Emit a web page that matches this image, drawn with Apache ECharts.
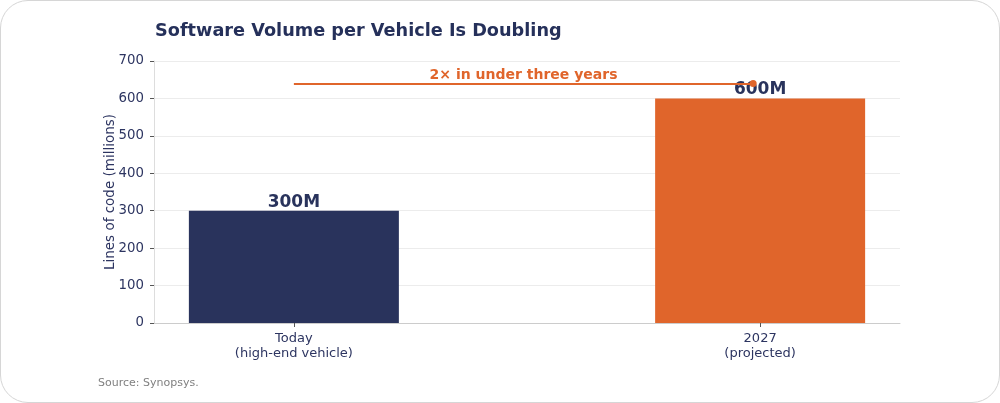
<!DOCTYPE html>
<html>
<head>
<meta charset="utf-8">
<script src="https://cdn.jsdelivr.net/npm/echarts@6/dist/echarts.min.js"></script>
<style>
  html, body { margin: 0; padding: 0; background: #fff; }
  .card {
    width: 998px; height: 401px;
    border: 1px solid #d6d6d6; border-radius: 28px;
    position: relative; overflow: hidden;
  }
  #chart { width: 1000px; height: 403px; position: absolute; left: -1px; top: -1px; }
</style>
</head>
<body>
<div class="card"><div id="chart"></div></div>
<script>
const FONT = "'DejaVu Sans', sans-serif"
const NAVY = '#29335c'
const ORANGE = '#e0652b'
const TEXT = '#2d3561'

const categories = ['Today\n(high-end vehicle)', '2027\n(projected)']
const positions = [0, 1]
const values = [300, 600]
const valueLabels = ['300M', '600M']
const barColors = [NAVY, ORANGE]
const annotationY = 640
const annotationText = '2× in under three years'

const chart = echarts.init(document.getElementById('chart'))

chart.setOption({
  animation: false,
  title: {
    text: 'Software Volume per Vehicle Is Doubling',
    left: 155, top: 22, padding: 0,
    textStyle: { fontFamily: FONT, fontSize: 17.7, fontWeight: 'bold', color: '#25305a' },
  },
  graphic: [{
    type: 'text', left: 98, top: 378,
    style: { text: 'Source: Synopsys.', fontFamily: FONT, fontSize: 11, fill: '#808080' },
  }],
  grid: { left: 154, right: 100, top: 61, bottom: 80 },
  xAxis: {
    type: 'value',
    min: -0.3, max: 1.3,
    splitLine: { show: false },
    axisLine: { show: true, onZero: false, lineStyle: { color: '#cccccc' } },
    axisTick: { show: true, customValues: positions, length: 4, lineStyle: { color: '#555' } },
    axisLabel: {
      customValues: positions,
      formatter: v => categories[Math.round(v)],
      fontFamily: FONT, fontSize: 13, color: TEXT, lineHeight: 15, margin: 8,
    },
  },
  yAxis: {
    type: 'value',
    min: 0, max: 700, interval: 100,
    name: 'Lines of code (millions)',
    nameLocation: 'middle', nameGap: 37, nameMoveOverlap: false,
    nameTextStyle: { fontFamily: FONT, fontSize: 13.5, color: TEXT },
    axisLine: { show: true, onZero: false, lineStyle: { color: '#dddddd' } },
    axisTick: { show: true, length: 4, lineStyle: { color: '#555' } },
    axisLabel: { fontFamily: FONT, fontSize: 13.3, color: TEXT, margin: 10 },
    splitLine: { lineStyle: { color: '#ececec' } },
  },
  series: [{
    type: 'bar',
    barWidth: 210,
    data: values.map((v, i) => ({
      value: [positions[i], v],
      itemStyle: { color: barColors[i] },
      label: {
        show: true, position: 'top', distance: 0,
        formatter: valueLabels[i],
        fontFamily: FONT, fontSize: 17, fontWeight: 'bold', color: NAVY,
      },
    })),
    markLine: {
      silent: true,
      symbol: ['none', 'circle'],
      symbolSize: 7,
      lineStyle: { color: ORANGE, width: 2, type: 'solid' },
      label: {
        show: true, position: 'middle', distance: 1,
        formatter: annotationText,
        fontFamily: FONT, fontSize: 14, fontWeight: 'bold', color: ORANGE,
      },
      data: [[{ coord: [positions[0], annotationY] }, { coord: [0.985, annotationY] }]],
    },
  }],
})
</script>
</body>
</html>
